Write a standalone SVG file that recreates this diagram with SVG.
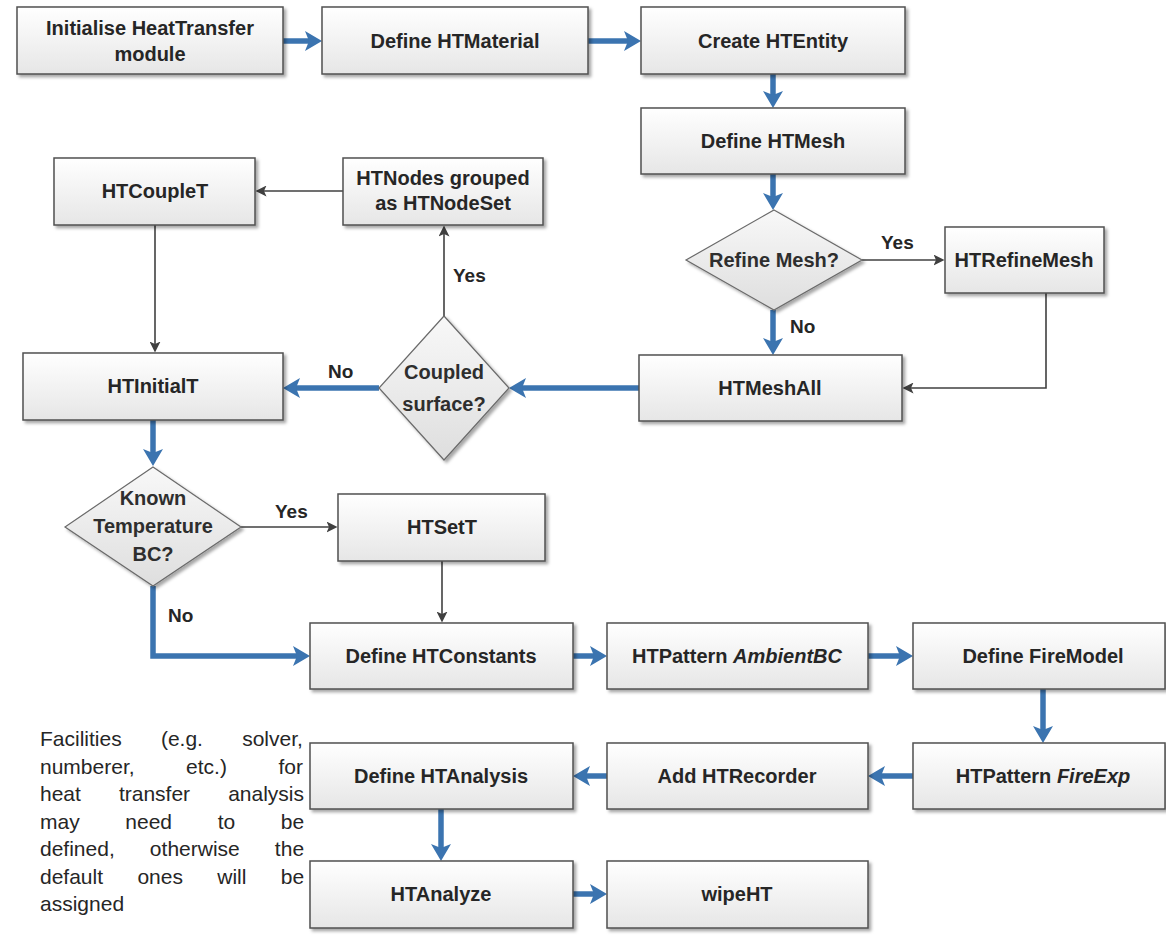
<svg xmlns="http://www.w3.org/2000/svg" width="1166" height="939" viewBox="0 0 1166 939">
<style>
.box{fill:url(#gb);stroke:#505050;stroke-width:1.5;filter:url(#sh)}
.dia{fill:url(#gd);stroke:#6a6a6a;stroke-width:1.2;filter:url(#sh)}
.t{font-family:"Liberation Sans",Arial,sans-serif;font-weight:bold;font-size:20px;fill:#262626;text-anchor:middle}
.dt{font-family:"Liberation Sans",Arial,sans-serif;font-weight:bold;font-size:20px;fill:#2e2e2e;text-anchor:middle}
.lb{font-family:"Liberation Sans",Arial,sans-serif;font-weight:bold;font-size:19px;fill:#262626}
.p{font-family:"Liberation Sans",Arial,sans-serif;font-size:21px;fill:#262626}
.blue{fill:none;stroke:#3b74b0;stroke-width:5.5;marker-end:url(#ab)}
.gray{fill:none;stroke:#404040;stroke-width:1.6;marker-end:url(#ag)}
</style>
<defs>
<linearGradient id="gb" x1="0" y1="0" x2="0" y2="1"><stop offset="0" stop-color="#ffffff"/><stop offset="1" stop-color="#e6e6e6"/></linearGradient>
<linearGradient id="gd" x1="0" y1="0" x2="0" y2="1"><stop offset="0" stop-color="#f8f8f8"/><stop offset="1" stop-color="#dedede"/></linearGradient>
<filter id="sh" x="-10%" y="-10%" width="130%" height="140%"><feDropShadow dx="2.5" dy="2.5" stdDeviation="1.5" flood-color="#000" flood-opacity="0.35"/></filter>
<marker id="ab" markerUnits="userSpaceOnUse" markerWidth="17" markerHeight="20" viewBox="0 0 17 20" refX="4" refY="10" orient="auto"><path d="M0,0 L17,10 L0,20 L4,10 z" fill="#3b74b0"/></marker>
<marker id="ag" markerUnits="userSpaceOnUse" markerWidth="11" markerHeight="11" viewBox="0 0 11 11" refX="2.5" refY="5.5" orient="auto"><path d="M0,0 L11,5.5 L0,11 L2.5,5.5 z" fill="#404040"/></marker>
</defs>
<rect width="1166" height="939" fill="#ffffff"/>

<g id="connectors">
<path class="blue" d="M283,41 H309"/>
<path class="blue" d="M588,41 H628"/>
<path class="blue" d="M773,74 V95"/>
<path class="blue" d="M773,174 V197"/>
<path class="blue" d="M773,310 V342"/>
<path class="blue" d="M639,388 H522"/>
<path class="blue" d="M379,388 H296"/>
<path class="blue" d="M153,420 V453"/>
<path class="blue" d="M153,586 V656 H297"/>
<path class="blue" d="M573,656 H594"/>
<path class="blue" d="M868,656 H900"/>
<path class="blue" d="M1043,689 V730"/>
<path class="blue" d="M913,776 H881"/>
<path class="blue" d="M607,776 H586"/>
<path class="blue" d="M441,809 V848"/>
<path class="blue" d="M573,894 H594"/>
<path class="gray" d="M862,260 H936"/>
<path class="gray" d="M1046,293 V388 H911"/>
<path class="gray" d="M444,316 V234"/>
<path class="gray" d="M343,191 H264"/>
<path class="gray" d="M155,225 V344"/>
<path class="gray" d="M241,527 H329"/>
<path class="gray" d="M442,561 V614"/>
<text class="lb" x="881" y="249">Yes</text>
<text class="lb" x="790" y="333">No</text>
<text class="lb" x="453" y="282">Yes</text>
<text class="lb" x="328" y="378">No</text>
<text class="lb" x="275" y="518">Yes</text>
<text class="lb" x="168" y="622">No</text>
</g>

<g id="n-init"><rect class="box" x="17" y="7" width="266" height="67"/><text class="t" x="150" y="35">Initialise HeatTransfer</text><text class="t" x="150" y="61">module</text></g>
<g id="n-material"><rect class="box" x="322" y="7" width="266" height="67"/><text class="t" x="455" y="48">Define HTMaterial</text></g>
<g id="n-entity"><rect class="box" x="641" y="7" width="264" height="67"/><text class="t" x="773" y="48">Create HTEntity</text></g>
<g id="n-mesh"><rect class="box" x="641" y="108" width="264" height="66"/><text class="t" x="773" y="148">Define HTMesh</text></g>
<g id="d-refine"><polygon class="dia" points="774,210 862,260 774,310 686,260"/><text class="dt" x="774" y="267">Refine Mesh?</text></g>
<g id="n-refinemesh"><rect class="box" x="945" y="227" width="159" height="66"/><text class="t" x="1024" y="267">HTRefineMesh</text></g>
<g id="n-meshall"><rect class="box" x="639" y="355" width="263" height="66"/><text class="t" x="770" y="395">HTMeshAll</text></g>
<g id="d-coupled"><polygon class="dia" points="444,316 509,388 444,460 379,388"/><text class="dt" x="444" y="379">Coupled</text><text class="dt" x="444" y="411">surface?</text></g>
<g id="n-nodeset"><rect class="box" x="343" y="158" width="200" height="67"/><text class="t" x="443" y="185">HTNodes grouped</text><text class="t" x="443" y="210">as HTNodeSet</text></g>
<g id="n-couplet"><rect class="box" x="54" y="158" width="201" height="67"/><text class="t" x="155" y="198">HTCoupleT</text></g>
<g id="n-initialt"><rect class="box" x="23" y="353" width="260" height="67"/><text class="t" x="153" y="393">HTInitialT</text></g>
<g id="d-known"><polygon class="dia" points="153,467 241,527 153,586 65,527"/><text class="dt" x="153" y="505">Known</text><text class="dt" x="153" y="533">Temperature</text><text class="dt" x="153" y="561">BC?</text></g>
<g id="n-sett"><rect class="box" x="338" y="494" width="207" height="67"/><text class="t" x="442" y="534">HTSetT</text></g>
<g id="n-constants"><rect class="box" x="310" y="623" width="263" height="66"/><text class="t" x="441" y="663">Define HTConstants</text></g>
<g id="n-ambient"><rect class="box" x="607" y="623" width="261" height="66"/><text class="t" x="737" y="663">HTPattern <tspan font-style="italic">AmbientBC</tspan></text></g>
<g id="n-firemodel"><rect class="box" x="913" y="623" width="252" height="66"/><text class="t" x="1043" y="663">Define FireModel</text></g>
<g id="n-fireexp"><rect class="box" x="913" y="743" width="252" height="66"/><text class="t" x="1043" y="783">HTPattern <tspan font-style="italic">FireExp</tspan></text></g>
<g id="n-recorder"><rect class="box" x="607" y="743" width="261" height="66"/><text class="t" x="737" y="783">Add HTRecorder</text></g>
<g id="n-analysis"><rect class="box" x="310" y="743" width="263" height="66"/><text class="t" x="441" y="783">Define HTAnalysis</text></g>
<g id="n-analyze"><rect class="box" x="310" y="861" width="263" height="67"/><text class="t" x="441" y="901">HTAnalyze</text></g>
<g id="n-wipe"><rect class="box" x="607" y="861" width="261" height="67"/><text class="t" x="737" y="901">wipeHT</text></g>

<g id="note">
<text class="p" x="40" y="746" word-spacing="33.4">Facilities (e.g. solver,</text>
<text class="p" x="40" y="773.5" word-spacing="45.7">numberer, etc.) for</text>
<text class="p" x="40" y="801" word-spacing="32.2">heat transfer analysis</text>
<text class="p" x="40" y="828.5" word-spacing="39.8">may need to be</text>
<text class="p" x="40" y="856" word-spacing="29.3">defined, otherwise the</text>
<text class="p" x="40" y="883.5" word-spacing="28.5">default ones will be</text>
<text class="p" x="40" y="911">assigned</text>
</g>
</svg>
